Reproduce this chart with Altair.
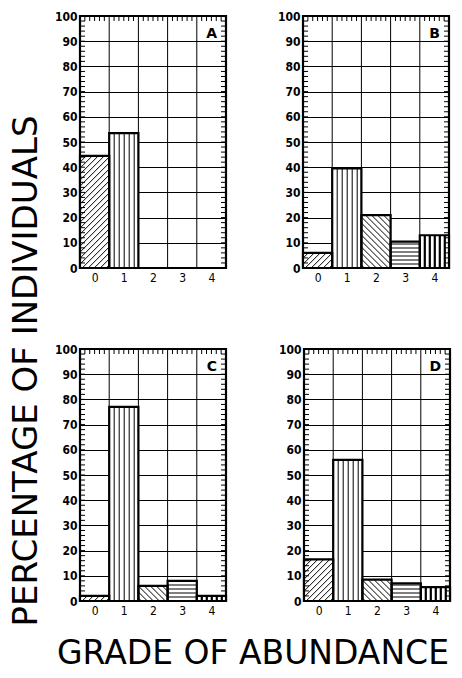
import altair as alt
import pandas as pd
import numpy as np

# ---- data ----
grades = [0, 1, 2, 3, 4]
panel_letters = ["A", "B", "C", "D"]
values_A = [44.5, 53.5, 0, 0, 0]
values_B = [6, 39.5, 21, 10.5, 13]
values_C = [2, 77, 6, 8, 2]
values_D = [16.5, 56, 8.5, 7, 5.5]
patterns = ["diag_up", "vertical", "diag_down", "horizontal", "vertical_bold"]
y_ticks = list(range(0, 101, 10))
minor_y = list(range(0, 101, 2))
y_title = "PERCENTAGE OF INDIVIDUALS"
x_title = "GRADE OF ABUNDANCE"

# ---- layout ----
W = 146
H = 252
PX = W / 5.0
PY = H / 100.0
x_scale = alt.Scale(domain=[-0.5, 4.5], nice=False, zero=False)
y_scale = alt.Scale(domain=[0, 100], nice=False, zero=True)
frame = alt.ViewBackground(stroke="black", strokeWidth=2.2)
noframe = alt.ViewBackground(strokeWidth=0, strokeOpacity=0)

xaxis = alt.Axis(values=grades, grid=False, ticks=False, domain=False,
                 labelPadding=4, title=None, labelFontSize=12, labelFontWeight="normal")
yaxis = alt.Axis(values=y_ticks, grid=True, gridColor="black", gridWidth=1, gridOpacity=1,
                 ticks=False, domain=False, labelPadding=3, title=None,
                 labelFontSize=12, labelFontWeight="bold")


def hatch(grade, value, kind):
    """Hatch segments for one bar, in data units."""
    segs = []
    bw, bh = PX, value * PY
    if bh <= 0:
        return segs
    x0 = grade - 0.5

    def add(xa, ya, xb, yb, sw=1.0):
        segs.append(dict(hx=x0 + xa / PX, hy=ya / PY, hx2=x0 + xb / PX, hy2=yb / PY, sw=sw))

    if kind == "diag_up":
        for c in np.arange(-bw + 3, bh, 6.0):
            xa, xb = max(0.0, -c), min(bw, bh - c)
            if xb - xa > 0.5:
                add(xa, xa + c, xb, xb + c)
    elif kind == "diag_down":
        for c in np.arange(3, bw + bh, 6.0):
            xa, xb = max(0.0, c - bh), min(bw, c)
            if xb - xa > 0.5:
                add(xa, c - xa, xb, c - xb)
    elif kind == "vertical":
        for x in np.arange(5, bw, 5.0):
            add(x, 0, x, bh)
    elif kind == "vertical_bold":
        for x in np.arange(5, bw, 5.0):
            add(x, 0, x, bh, 2.2)
    elif kind == "horizontal":
        for y in np.arange(4, bh, 4.0):
            add(0, y, bw, y)
    return segs


def make_panel(letter, values):
    bars = pd.DataFrame({"grade": grades, "value": values})
    bars["x0"] = bars["grade"] - 0.5
    bars["x1"] = bars["grade"] + 0.5
    bars["base"] = 0.0
    bars = bars[bars["value"] > 0]

    segs = []
    for g, v, k in zip(grades, values, patterns):
        segs += hatch(g, v, k)
    hdf = pd.DataFrame(segs)

    fill = alt.Chart(bars).mark_rect(fill="white", strokeWidth=0).encode(
        x=alt.X("x0:Q", scale=x_scale, axis=xaxis),
        x2="x1",
        y=alt.Y("value:Q", scale=y_scale, axis=yaxis),
        y2="base",
    )

    vgrid = pd.DataFrame({"b": [g + 0.5 for g in grades[:-1]]})
    grid = alt.Chart(vgrid).mark_rule(color="black", strokeWidth=1).encode(
        x=alt.X("b:Q", scale=x_scale, axis=xaxis)
    )

    hatch_layer = alt.Chart(hdf).mark_rule(color="black").encode(
        x=alt.X("hx:Q", scale=x_scale, axis=xaxis),
        x2="hx2",
        y=alt.Y("hy:Q", scale=y_scale, axis=yaxis),
        y2="hy2",
        strokeWidth=alt.StrokeWidth("sw:Q", scale=None, legend=None),
    )
    outline = alt.Chart(bars).mark_rect(fillOpacity=0, stroke="black", strokeWidth=2.2).encode(
        x=alt.X("x0:Q", scale=x_scale, axis=xaxis),
        x2="x1",
        y=alt.Y("value:Q", scale=y_scale, axis=yaxis),
        y2="base",
    )

    tdf = pd.DataFrame({"t": minor_y})
    left_ticks = alt.Chart(tdf).mark_rule(color="black", strokeWidth=1).encode(
        x=alt.value(0), x2=alt.value(5), y=alt.Y("t:Q", scale=y_scale, axis=yaxis)
    )
    right_ticks = alt.Chart(tdf).mark_rule(color="black", strokeWidth=1).encode(
        x=alt.value(W - 5), x2=alt.value(W), y=alt.Y("t:Q", scale=y_scale, axis=yaxis)
    )
    top_df = pd.DataFrame({"tx": [g - 0.5 + k / 6.0 for g in grades for k in range(1, 6)]})
    top_ticks = alt.Chart(top_df).mark_rule(color="black", strokeWidth=1).encode(
        x=alt.X("tx:Q", scale=x_scale, axis=xaxis), y=alt.value(0), y2=alt.value(5)
    )

    ldf = pd.DataFrame({"label": [letter], "lx": [4.5], "ly": [93.0]})
    lab = alt.Chart(ldf).mark_text(align="right", baseline="middle", dx=-9, fontSize=14,
                                   fontWeight="bold", font="DejaVu Sans", color="black").encode(
        x=alt.X("lx:Q", scale=x_scale, axis=xaxis),
        y=alt.Y("ly:Q", scale=y_scale, axis=yaxis),
        text="label:N",
    )

    return alt.layer(fill, grid, hatch_layer, outline, left_ticks, right_ticks, top_ticks, lab).properties(
        width=W, height=H, view=frame
    )


pA = make_panel("A", values_A)
pB = make_panel("B", values_B)
pC = make_panel("C", values_C)
pD = make_panel("D", values_D)

panels = alt.vconcat(
    alt.hconcat(pA, pB, spacing=48),
    alt.hconcat(pC, pD, spacing=48),
    spacing=56,
)

ytitle_chart = alt.Chart(pd.DataFrame({"t": [y_title]})).mark_text(
    angle=270, align="center", baseline="middle", fontSize=34, font="DejaVu Sans", color="black"
).encode(text="t:N", x=alt.value(19), y=alt.value(355)).properties(width=36, height=590, view=noframe)

xtitle_chart = alt.Chart(pd.DataFrame({"t": [x_title]})).mark_text(
    align="center", baseline="middle", fontSize=33, font="DejaVu Sans", color="black"
).encode(text="t:N", x=alt.value(245), y=alt.value(27)).properties(width=430, height=44, view=noframe)

chart = alt.vconcat(
    alt.hconcat(ytitle_chart, panels, spacing=8),
    xtitle_chart,
    spacing=0,
).properties(
    padding={"left": 0, "top": 0, "right": 0, "bottom": 0},
).configure_view(strokeWidth=0).configure_axis(
    labelFont="DejaVu Sans Condensed", labelColor="black"
)

chart.save("out.html", embed_options={"renderer": "svg", "actions": False})
